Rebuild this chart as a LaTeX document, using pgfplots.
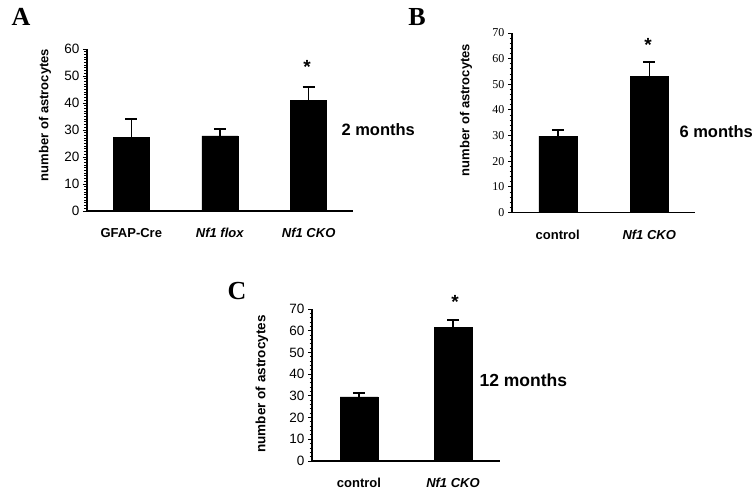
\documentclass[border=0pt]{standalone}
\usepackage{fontspec}
\setmainfont{Liberation Sans}
\newfontfamily\seriffont{Liberation Serif}
\usepackage{pgfplots}
\pgfplotsset{compat=1.18}
\pgfplotsset{
  panel/.style={
    scale only axis,
    anchor=south west,
    axis x line*=bottom, axis y line*=left,
    axis line style={line width=1.6pt},
    ymin=0, xmin=-0.5,
    ybar, bar width=36pt,
    xtick={0,1,2}, xtick style={draw=none},
    tick align=outside,
    ytick style={line width=0.9pt, black},
    major tick length=4pt, minor tick length=2.5pt,
    /pgf/number format/assume math mode=true,
    xticklabel style={font=\bfseries\fontsize{13}{13}\selectfont, yshift=-10pt},
  },
  bars/.style={fill=black, draw=black,
    error bars/.cd, y dir=plus, y explicit,
    error bar style={draw=black, line width=1.5pt},
    error mark options={draw=black, rotate=90, mark size=6pt, line width=1.5pt}},
}
\begin{document}
\begin{tikzpicture}[x=1pt,y=1pt]
\useasboundingbox (0,0) rectangle (756,495);
% Panel A
\begin{axis}[panel, at={(87pt,284pt)}, width=266pt, height=162pt,
  xmax=2.5, ymax=60, ytick={0,10,...,60}, minor y tick num=9,
  xticklabels={GFAP-Cre, \textit{Nf1 flox}, \textit{Nf1 CKO}},
  yticklabel style={font=\fontsize{13.5}{13.5}\selectfont}]
\addplot[bars] coordinates {(0,27.3) +- (0,6.7) (1,27.8) +- (0,2.6) (2,41.0) +- (0,5.0)};
\end{axis}
% Panel B
\begin{axis}[panel, at={(512pt,282.5pt)}, width=183pt, height=179.5pt,
  xmax=1.5, ymax=70, ytick={0,10,...,70}, minor y tick num=4, bar width=38pt,
  xticklabels={control, \textit{Nf1 CKO}},
  yticklabel style={font=\seriffont\fontsize{12}{12}\selectfont}]
\addplot[bars] coordinates {(0,29.8) +- (0,2.4) (1,53.2) +- (0,5.5)};
\end{axis}
% Panel C
\begin{axis}[panel, at={(312pt,34pt)}, width=188pt, height=152pt,
  xmax=1.5, ymax=70, ytick={0,10,...,70}, minor y tick num=4, bar width=38pt,
  xticklabels={control, \textit{Nf1 CKO}},
  yticklabel style={font=\fontsize{13.5}{13.5}\selectfont}]
\addplot[bars] coordinates {(0,29.5) +- (0,1.8) (1,61.6) +- (0,3.3)};
\end{axis}
% y labels
\node[rotate=90, font=\bfseries\fontsize{13}{13}\selectfont] at (45,380) {number of astrocytes};
\node[rotate=90, font=\bfseries\fontsize{13}{13}\selectfont] at (466,385) {number of astrocytes};
\node[rotate=90, font=\bfseries\fontsize{13.5}{13.5}\selectfont] at (262,111) {number of astrocytes};
% period labels
\node[anchor=west, font=\bfseries\fontsize{16.5}{16.5}\selectfont] at (338,365) {2 months};
\node[anchor=west, font=\bfseries\fontsize{16.5}{16.5}\selectfont] at (676,363) {6 months};
\node[anchor=west, font=\bfseries\fontsize{17.5}{17.5}\selectfont] at (476,115) {12 months};
% panel letters
\node[font=\seriffont\bfseries\fontsize{26}{26}\selectfont] at (21,478) {A};
\node[font=\seriffont\bfseries\fontsize{26}{26}\selectfont] at (417,478) {B};
\node[font=\seriffont\bfseries\fontsize{26}{26}\selectfont] at (237,204) {C};
% asterisks
\node[font=\bfseries\fontsize{19}{19}\selectfont] at (307,428) {*};
\node[font=\bfseries\fontsize{19}{19}\selectfont] at (648,450) {*};
\node[font=\bfseries\fontsize{19}{19}\selectfont] at (455,193) {*};
\end{tikzpicture}
\end{document}
